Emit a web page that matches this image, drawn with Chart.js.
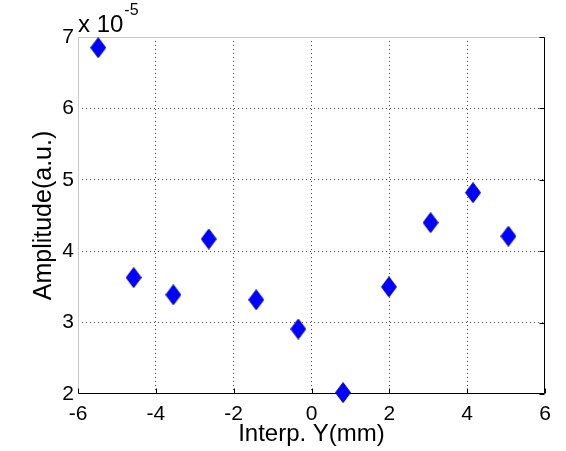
<!DOCTYPE html>
<html>
<head>
<meta charset="utf-8">
<script src="https://cdn.jsdelivr.net/npm/chart.js@4/dist/chart.umd.min.js"></script>
<style>
  html, body { margin: 0; padding: 0; background: #ffffff; }
  #wrap { width: 566px; height: 451px; }
</style>
</head>
<body>
<div id="wrap"><canvas id="c" width="566" height="451"></canvas></div>
<script>
// ---- data (amplitude in units of 1e-5 a.u.) ----
const interpY = [-5.48, -4.57, -3.55, -2.64, -1.42, -0.34, 0.81, 1.99, 3.06, 4.15, 5.06];
const amplitudeE5 = [6.85, 3.63, 3.39, 4.17, 3.32, 2.91, 2.02, 3.50, 4.40, 4.82, 4.21];
const xTicks = [-6, -4, -2, 0, 2, 4, 6];
const yTicks = [2, 3, 4, 5, 6, 7];
const xTitle = 'Interp. Y(mm)';
const yTitle = 'Amplitude(a.u.)';
const multiplierBase = 'x 10';
const multiplierExp = '-5';

const points = interpY.map((x, i) => ({ x: x, y: amplitudeE5[i] }));

const FONT = '"Liberation Sans", Arial, Helvetica, sans-serif';

// diamond marker image
function diamond(w, h) {
  const c = document.createElement('canvas');
  c.width = w; c.height = h;
  const g = c.getContext('2d');
  g.beginPath();
  g.moveTo(w / 2, 0.5);
  g.lineTo(w - 0.5, h / 2);
  g.lineTo(w / 2, h - 0.5);
  g.lineTo(0.5, h / 2);
  g.closePath();
  g.fillStyle = '#0000ff';
  g.fill();
  g.strokeStyle = '#0000b0';
  g.lineWidth = 1;
  g.stroke();
  return c;
}
const marker = diamond(16, 21);

const GRID = 'rgba(40,40,40,0.85)';

const frame = {
  id: 'frame',
  beforeDatasetsDraw(chart) {
    const { ctx, chartArea: a } = chart;
    const L = Math.round(a.left) + 0.5, R = Math.round(a.right) - 0.5;
    const T = Math.round(a.top) + 0.5, B = Math.round(a.bottom) - 0.5;
    ctx.save();
    ctx.lineWidth = 1;
    ctx.setLineDash([]);
    // top and left (light)
    ctx.strokeStyle = '#c8c8c8';
    ctx.beginPath();
    ctx.moveTo(L, B); ctx.lineTo(L, T); ctx.lineTo(R, T);
    ctx.stroke();
    // bottom and right (black)
    ctx.strokeStyle = '#000000';
    ctx.beginPath();
    ctx.moveTo(L, B); ctx.lineTo(R, B); ctx.lineTo(R, T);
    ctx.stroke();
    // inward ticks on bottom and right
    const xs = chart.scales.x, ys = chart.scales.y;
    ctx.beginPath();
    xTicks.forEach(v => {
      const px = Math.round(xs.getPixelForValue(v)) + 0.5;
      ctx.moveTo(px, B); ctx.lineTo(px, B - 5);
    });
    yTicks.forEach(v => {
      const py = Math.round(ys.getPixelForValue(v)) + 0.5;
      ctx.moveTo(R, py); ctx.lineTo(R - 5, py);
    });
    ctx.stroke();
    ctx.restore();
  },
  afterDraw(chart) {
    const { ctx, chartArea: a } = chart;
    ctx.save();
    ctx.fillStyle = '#000';
    ctx.textBaseline = 'alphabetic';
    ctx.textAlign = 'left';
    ctx.font = '24px ' + FONT;
    ctx.fillText(multiplierBase, a.left, 32);
    const w = ctx.measureText(multiplierBase).width;
    ctx.font = '16px ' + FONT;
    ctx.fillText(multiplierExp, a.left + w + 1, 15);
    ctx.restore();
  }
};

new Chart(document.getElementById('c'), {
  type: 'scatter',
  data: {
    datasets: [{
      data: points,
      pointStyle: marker,
      pointRadius: 10,
      showLine: false,
      clip: false
    }]
  },
  options: {
    responsive: false,
    animation: false,
    devicePixelRatio: 1,
    layout: { padding: { top: 37, right: 21, left: 0, bottom: 0 } },
    plugins: { legend: { display: false }, tooltip: { enabled: false } },
    scales: {
      x: {
        type: 'linear',
        min: -6, max: 6,
        afterFit(s) { s.height = 57; },
        afterBuildTicks(s) { s.ticks = xTicks.map(v => ({ value: v })); },
        grid: {
          drawTicks: false,
          lineWidth: 1,
          color: c => (c.tick && (c.tick.value === -6 || c.tick.value === 6)) ? 'rgba(0,0,0,0)' : GRID
        },
        border: { display: false, dash: [1, 3] },
        ticks: {
          padding: 8,
          color: '#000',
          font: { family: FONT, size: 21 },
          maxRotation: 0,
          callback: v => String(v)
        },
        title: {
          display: true,
          text: xTitle,
          color: '#000',
          font: { family: FONT, size: 24 },
          padding: { top: 0, bottom: 2 }
        }
      },
      y: {
        type: 'linear',
        min: 2, max: 7,
        afterFit(s) { s.width = 78; },
        afterBuildTicks(s) { s.ticks = yTicks.map(v => ({ value: v })); },
        grid: {
          drawTicks: false,
          lineWidth: 1,
          color: c => (c.tick && (c.tick.value === 2 || c.tick.value === 7)) ? 'rgba(0,0,0,0)' : GRID
        },
        border: { display: false, dash: [1, 3] },
        ticks: {
          padding: 4,
          color: '#000',
          font: { family: FONT, size: 21 },
          callback: v => String(v)
        },
        title: {
          display: true,
          text: yTitle,
          color: '#000',
          font: { family: FONT, size: 25 },
          padding: { top: 29, bottom: 0 }
        }
      }
    }
  },
  plugins: [frame]
});
</script>
</body>
</html>
